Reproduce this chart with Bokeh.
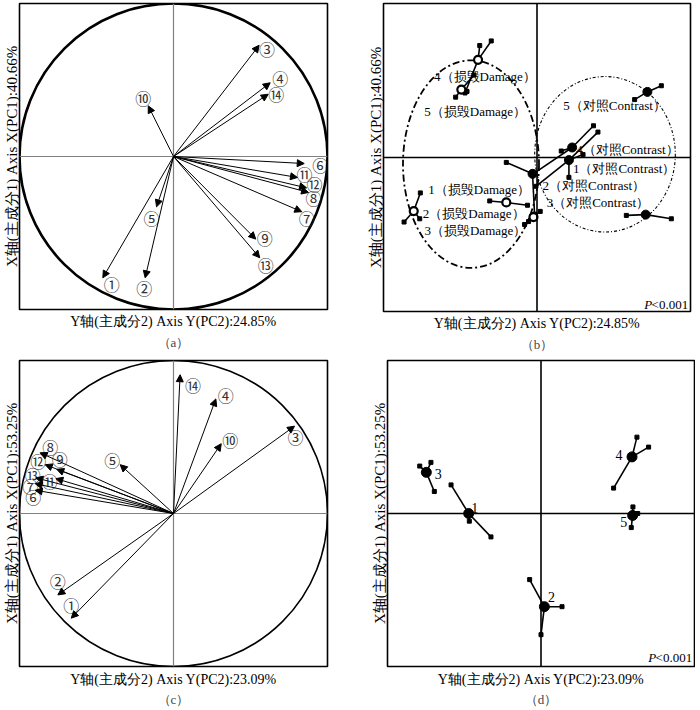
from bokeh.plotting import figure
from bokeh.layouts import row, column, Spacer
from bokeh.models import Range1d, Span, Arrow, NormalHead, ColumnDataSource, Title, FixedTicker
from bokeh.embed import file_html
from bokeh.resources import INLINE
from bokeh.core.properties import value

SERIF = "Liberation Serif"
CIRC = "Noto Sans CJK SC"

# ---------------- data ----------------
num_labels = ["①", "②", "③", "④", "⑤", "⑥", "⑦", "⑧", "⑨", "⑩", "⑪", "⑫", "⑬", "⑭"]

# panel (a): loadings, PC2 horizontal, PC1 vertical
a_pc2 = [-0.459, -0.184, 0.556, 0.628, -0.110, 0.849, 0.833, 0.877, 0.534, -0.164, 0.805, 0.864, 0.560, 0.615]
a_pc1 = [-0.793, -0.793, 0.727, 0.482, -0.329, -0.046, -0.361, -0.235, -0.540, 0.331, -0.137, -0.205, -0.662, 0.407]
a_lab_dx = [9, -1, 8, 10, -5, 16, 5, 5, 9, -5, 7, 8, 6, 8]
a_lab_dy = [6, 10, 4, -5, 11, 1, 6, 6, -1, -8, -3, -4, 7, 0]

# panel (c): loadings
c_pc2 = [-0.664, -0.751, 0.786, 0.275, -0.346, -0.898, -0.898, -0.866, -0.758, 0.310, -0.764, -0.833, -0.894, 0.043]
c_pc1 = [-0.684, -0.532, 0.571, 0.749, 0.319, 0.152, 0.195, 0.397, 0.289, 0.456, 0.228, 0.319, 0.233, 0.907]
c_lab_dx = [0, 0, 1, 10, -8, -2, -5, 10, 3, 9, -6, -7, -3, 13]
c_lab_dy = [-13, -14, 11, -4, -5, 7, 2, -6, -10, -4, 2, -4, -3, 10]

# panel (b): group centroids and replicate scores
b_names = ["1（损毁Damage）", "2（损毁Damage）", "3（损毁Damage）", "4（损毁Damage）", "5（损毁Damage）",
           "1（对照Contrast）", "2（对照Contrast）", "3（对照Contrast）", "4（对照Contrast）", "5（对照Contrast）"]
b_type = ["damage"] * 5 + ["contrast"] * 5
b_cx = [-0.200, -0.803, -0.023, -0.384, -0.493, 0.208, -0.029, 0.708, 0.229, 0.719]
b_cy = [-0.292, -0.348, -0.387, 0.634, 0.441, -0.017, -0.106, -0.371, 0.065, 0.426]
b_rep_x = [[-0.308, -0.062], [-0.760, -0.866, -0.764], [-0.081, -0.055, 0.021], [-0.373, -0.298, -0.469],
           [-0.530, -0.456, -0.410], [0.397, 0.208, 0.300, -0.007], [-0.200, -0.016], [0.582, 0.875],
           [0.368, 0.158, -0.020], [0.810, 0.636]]
b_rep_y = [[-0.282, -0.310], [-0.230, -0.419, -0.398], [-0.435, -0.416, -0.350], [0.727, 0.757, 0.419],
           [0.392, 0.429, 0.535], [0.165, -0.129, 0.019, -0.187], [-0.032, -0.368], [-0.376, -0.398],
           [0.206, 0.042, -0.103], [0.466, 0.376]]
b_lab_dx = [-78, 9, -109, -44, -37, 4, 10, -99, 4, -84]
b_lab_dy = [-13, 2, 13, 17, 22, 8, 12, -12, 2, 14]
# confidence ellipses (damage, contrast)
b_ell_x = [-0.430, 0.443]
b_ell_y = [-0.043, 0.021]
b_ell_w = [0.886, 0.916]
b_ell_h = [1.348, 1.010]

# panel (d)
d_names = ["1", "2", "3", "4", "5"]
d_cx = [-0.471, 0.022, -0.747, 0.593, 0.597]
d_cy = [0.000, -0.609, 0.269, 0.370, -0.013]
d_rep_x = [[-0.586, -0.326, -0.467], [-0.074, 0.137, 0.000], [-0.790, -0.717, -0.695],
           [0.625, 0.701, 0.473], [0.599, 0.630, 0.588]]
d_rep_y = [[0.187, -0.153, -0.050], [-0.432, -0.609, -0.792], [0.310, 0.334, 0.144],
           [0.499, 0.434, 0.166], [0.043, 0.000, -0.092]]
d_lab_dx = [6, 7, 12, -13, -9]
d_lab_dy = [-6, -10, 2, -2, 7]

xlab_1 = "Y轴(主成分2) Axis Y(PC2):24.85%"
ylab_1 = "X轴(主成分1) Axis X(PC1):40.66%"
xlab_2 = "Y轴(主成分2) Axis Y(PC2):23.09%"
ylab_2 = "X轴(主成分1) Axis X(PC1):53.25%"
p_text = "<0.001"


# ---------------- helpers ----------------
def make_fig(xlabel, ylabel, sub, fw, fh, bl, bt, br, bb, xstand, tstand):
    p = figure(frame_width=fw, frame_height=fh, x_range=Range1d(-1, 1), y_range=Range1d(-1, 1),
               output_backend="svg", toolbar_location=None,
               min_border_left=bl, min_border_top=bt, min_border_right=br, min_border_bottom=bb)
    p.grid.visible = False
    for ax in (p.xaxis[0], p.yaxis[0]):
        ax.ticker = FixedTicker(ticks=[])
        ax.major_tick_line_color = None
        ax.minor_tick_line_color = None
        ax.axis_line_color = None
        ax.major_tick_out = 0
        ax.major_tick_in = 0
        ax.minor_tick_out = 0
        ax.major_label_standoff = 0
        ax.major_label_text_font_size = "0px"
        ax.axis_label_text_font = SERIF
        ax.axis_label_text_font_style = "normal"
        ax.axis_label_text_color = "black"
    p.xaxis[0].axis_label = xlabel
    p.xaxis[0].axis_label_text_font_size = "14px"
    p.xaxis[0].axis_label_standoff = xstand
    p.yaxis[0].axis_label = ylabel
    p.yaxis[0].axis_label_text_font_size = "15px"
    p.yaxis[0].axis_label_standoff = 0
    p.outline_line_color = "black"
    p.outline_line_width = 1.6
    p.outline_line_alpha = 1.0
    p.add_layout(Title(text=sub, align="center", text_font=SERIF, text_font_size="13px",
                       text_font_style="normal", standoff=tstand), "below")
    return p


def loading_panel(p, xs, ys, dx, dy, circle_w, cross_color):
    p.ellipse(x=[0], y=[0], width=[2], height=[2], fill_color=None, line_color="black", line_width=circle_w)
    p.add_layout(Span(location=0, dimension="width", line_color=cross_color, line_width=1.2))
    p.add_layout(Span(location=0, dimension="height", line_color=cross_color, line_width=1.2))
    src = ColumnDataSource(dict(x=xs, y=ys, lab=num_labels, dx=dx, dy=dy))
    p.add_layout(Arrow(end=NormalHead(size=7, fill_color="black", line_color="black", line_width=1),
                       x_start=0, y_start=0, x_end="x", y_end="y", source=src,
                       line_color="black", line_width=1))
    p.text(x="x", y="y", text="lab", x_offset="dx", y_offset="dy", source=src,
           text_align="center", text_baseline="middle", text_font_size="16px",
           text_font=value(CIRC), text_color="#333333")


def spider(p, cx, cy, rx, ry, lw):
    x0, y0, x1, y1 = [], [], [], []
    for i in range(len(cx)):
        for xx, yy in zip(rx[i], ry[i]):
            x0.append(cx[i]); y0.append(cy[i]); x1.append(xx); y1.append(yy)
    p.segment(x0=x0, y0=y0, x1=x1, y1=y1, line_color="black", line_width=lw)
    p.scatter(x=x1, y=y1, marker="square", size=4, color="black")


def p_value(p, y):
    p.text(x=[0.985], y=[y], text=[p_text], text_align="right", text_baseline="middle",
           text_font_size="13px", text_font=value(SERIF), text_color="black")
    p.text(x=[0.985], y=[y], text=["P"], x_offset=-36, text_align="right", text_baseline="middle",
           text_font_size="13px", text_font=value(SERIF), text_font_style="italic", text_color="black")


# ---------------- panel (a) ----------------
pa = make_fig(xlab_1, ylab_1, "（a）", 308, 306, 18, 3, 37, 43, 4, 2)
loading_panel(pa, a_pc2, a_pc1, a_lab_dx, a_lab_dy, 2.6, "#808080")

# ---------------- panel (b) ----------------
pb = make_fig(xlab_1, ylab_1, "（b）", 307, 308, 18, 0, 2, 44, 4, 2)
pb.add_layout(Span(location=0, dimension="width", line_color="black", line_width=1.6))
pb.add_layout(Span(location=0, dimension="height", line_color="black", line_width=1.6))
pb.ellipse(x=b_ell_x[:1], y=b_ell_y[:1], width=b_ell_w[:1], height=b_ell_h[:1], fill_color=None,
           line_color="black", line_width=1.8, line_dash="7 3 2 3")
pb.ellipse(x=b_ell_x[1:], y=b_ell_y[1:], width=b_ell_w[1:], height=b_ell_h[1:], fill_color=None,
           line_color="black", line_width=1.1, line_dash="3 2 1 2")
spider(pb, b_cx, b_cy, b_rep_x, b_rep_y, 1.6)
dmg = [i for i, t in enumerate(b_type) if t == "damage"]
ctl = [i for i, t in enumerate(b_type) if t == "contrast"]
pb.scatter(x=[b_cx[i] for i in dmg], y=[b_cy[i] for i in dmg], size=8, fill_color="white",
           line_color="black", line_width=2.2)
pb.scatter(x=[b_cx[i] for i in ctl], y=[b_cy[i] for i in ctl], size=9, fill_color="black",
           line_color="black")
bsrc = ColumnDataSource(dict(x=b_cx, y=b_cy, t=b_names, dx=b_lab_dx, dy=b_lab_dy))
pb.text(x="x", y="y", text="t", x_offset="dx", y_offset="dy", source=bsrc, text_align="left",
        text_baseline="middle", text_font_size="13px", text_font=value(SERIF), text_color="black")
p_value(pb, -0.953)

# ---------------- panel (c) ----------------
pc = make_fig(xlab_2, ylab_2, "（c）", 308, 306, 16, 1, 41, 41, 5, 0)
loading_panel(pc, c_pc2, c_pc1, c_lab_dx, c_lab_dy, 1.6, "#808080")

# ---------------- panel (d) ----------------
pd = make_fig(xlab_2, ylab_2, "（d）", 307, 306, 18, 1, 1, 41, 5, 0)
pd.add_layout(Span(location=0, dimension="width", line_color="black", line_width=1.6))
pd.add_layout(Span(location=0, dimension="height", line_color="black", line_width=1.6))
spider(pd, d_cx, d_cy, d_rep_x, d_rep_y, 1.6)
pd.scatter(x=d_cx, y=d_cy, size=10, fill_color="black", line_color="black")
dsrc = ColumnDataSource(dict(x=d_cx, y=d_cy, t=d_names, dx=d_lab_dx, dy=d_lab_dy))
pd.text(x="x", y="y", text="t", x_offset="dx", y_offset="dy", source=dsrc, text_align="center",
        text_baseline="middle", text_font_size="14px", text_font=value(SERIF), text_color="black")
p_value(pd, -0.942)

layout = column(row(pa, pb), Spacer(height=7), row(pc, pd))
open("out.html", "w").write(file_html(layout, INLINE))
